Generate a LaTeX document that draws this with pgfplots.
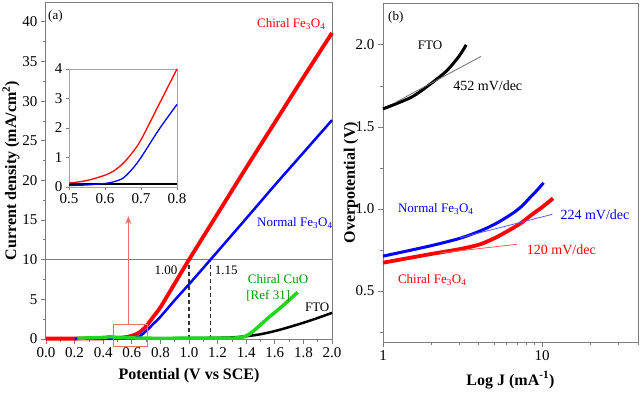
\documentclass[border=0pt]{standalone}
\usepackage{fontspec}
\setmainfont{Liberation Serif}
\usepackage{pgfplots}
\pgfplotsset{compat=1.18}
\usetikzlibrary{arrows.meta}
\definecolor{axgray}{RGB}{125,125,125}
\definecolor{cgreen}{RGB}{30,215,30}
\definecolor{lred}{RGB}{240,110,110}
\definecolor{tgray}{RGB}{110,110,110}
\definecolor{tblue}{RGB}{90,90,255}
\definecolor{tred}{RGB}{255,90,90}
\pgfplotsset{
  myax/.style={scale only axis, anchor=south west,
    axis line style={axgray, line width=1pt},
    tick style={axgray, line width=0.8pt},
    tick align=outside, tick pos=left,
    major tick length=5pt, minor tick length=3pt,
    tick label style={font=\fontsize{15}{17}\selectfont},
    label style={font=\fontsize{16}{18}\selectfont\bfseries},
    xlabel style={yshift=-4pt},
    /pgf/number format/assume math mode=true, clip=false}
}
\tikzset{ann/.style={font=\fontsize{13}{15}\selectfont, inner sep=0pt}}
\begin{document}
\begin{tikzpicture}
\path[use as bounding box] (0pt,0pt) rectangle (640pt,392pt);
% ---------------- panel (a)
\begin{axis}[myax, at={(46pt,53pt)}, width=286pt, height=337pt,
  xmin=0, xmax=2, ymin=0, ymax=42.5,
  xtick={0,0.2,0.4,0.6,0.8,1,1.2,1.4,1.6,1.8,2}, minor x tick num=1,
  ytick={0,5,10,15,20,25,30,35,40}, minor y tick num=1,
  xticklabel style={/pgf/number format/.cd, fixed, fixed zerofill, precision=1},
  xlabel={Potential (V vs SCE)},
  ylabel={Current density (mA/cm\textsuperscript{2})},
  ylabel style={at={(axis description cs:-0.122,0.5)}, anchor=center}]
\addplot[axgray, line width=1pt] coordinates {(0,10) (2,10)};
\addplot[black!80, line width=1.2pt, dash pattern=on 4pt off 3pt] coordinates {(1.0,0) (1.0,10)};
\addplot[black!80, line width=1.2pt, dash pattern=on 4pt off 3pt] coordinates {(1.15,0) (1.15,10)};
\addplot[black, line width=2.5pt, smooth] coordinates {(0,0.05) (0.5,0.08) (1.0,0.1) (1.2,0.15) (1.3,0.2) (1.4,0.35) (1.5,0.6) (1.6,1.0) (1.7,1.5) (1.8,2.05) (1.9,2.65) (2.0,3.3)};
\addplot[red, line width=3.8pt, smooth] coordinates {(0,0.05) (0.2,0.05) (0.4,0.08) (0.5,0.13) (0.55,0.22) (0.6,0.4) (0.65,0.8) (0.7,1.6) (0.75,2.8) (0.8,4.0) (0.9,7.0) (1.0,10.0) (1.2,15.8) (1.4,21.6) (1.6,27.3) (1.8,33.0) (2.0,38.6)};
\addplot[blue, line width=2.5pt, smooth] coordinates {(0.2,0.03) (0.5,0.05) (0.55,0.07) (0.6,0.12) (0.65,0.3) (0.7,1.0) (0.75,1.9) (0.8,2.8) (0.9,4.9) (1.0,6.9) (1.15,10.0) (1.4,15.2) (1.6,19.4) (1.8,23.5) (2.0,27.6)};
\addplot[cgreen, line width=3.5pt, smooth] coordinates {(0.22,0.1) (0.4,0.2) (0.45,0.3) (0.5,0.2) (0.7,0.1) (1.0,0.1) (1.3,0.12) (1.37,0.2) (1.42,0.6) (1.47,1.3) (1.55,2.6) (1.65,4.1) (1.76,5.9)};
\draw[lred, line width=1pt] (axis cs:0.47,-1.0) rectangle (axis cs:0.71,1.8);
\draw[lred, line width=1pt, -{Stealth[length=8pt,width=6pt]}] (axis cs:0.576,1.8) -- (axis cs:0.576,15.5);
\node[ann, anchor=west] at (axis cs:0.014,40.75) {(a)};
\node[ann, anchor=west, red] at (axis cs:1.475,39.7) {Chiral Fe\textsubscript{3}O\textsubscript{4}};
\node[ann, anchor=west, blue] at (axis cs:1.475,14.6) {Normal Fe\textsubscript{3}O\textsubscript{4}};
\node[ann, anchor=west, green!60!black] at (axis cs:1.41,7.5) {Chiral CuO};
\node[ann, anchor=west, green!60!black] at (axis cs:1.40,5.5) {[Ref 31]};
\node[ann, anchor=west] at (axis cs:1.81,4.0) {FTO};
\node[ann, anchor=east] at (axis cs:0.92,8.7) {1.00};
\node[ann, anchor=west] at (axis cs:1.18,8.7) {1.15};
\end{axis}
% ---------------- inset
\begin{axis}[myax, at={(69pt,205pt)}, width=108pt, height=118pt,
  axis line style={axgray!70, line width=0.8pt},
  xmin=0.5, xmax=0.8, ymin=0, ymax=4,
  xtick={0.5,0.6,0.7,0.8}, ytick={0,1,2,3,4},
  major tick length=3pt,
  xticklabel style={/pgf/number format/.cd, fixed, fixed zerofill, precision=1}]
\addplot[black, line width=1.2pt] coordinates {(0.5,0.1) (0.8,0.1)};
\addplot[blue, line width=1.3pt, smooth] coordinates {(0.5,0.05) (0.55,0.07) (0.6,0.12) (0.625,0.18) (0.65,0.3) (0.675,0.6) (0.7,1.0) (0.75,1.95) (0.8,2.8)};
\addplot[red, line width=1.3pt, smooth] coordinates {(0.5,0.13) (0.55,0.22) (0.6,0.4) (0.625,0.55) (0.65,0.8) (0.675,1.15) (0.7,1.6) (0.75,2.8) (0.8,4.0)};
\end{axis}
% ---------------- panel (b)
\begin{axis}[myax, at={(383pt,50pt)}, width=255pt, height=339pt,
  xmode=log, xmin=1, xmax=40, ymin=0.19, ymax=2.255,
  xtick={1,10}, xticklabels={1,10},
  minor xtick={2,3,4,5,6,7,8,9,20,30,40},
  ytick={0.5,1,1.5,2}, minor ytick={0.25,0.75,1.25,1.75},
  yticklabel style={/pgf/number format/.cd, fixed, fixed zerofill, precision=1},
  xlabel={Log J (mA\textsuperscript{-1})},
  ylabel={Overpotential (V)},
  ylabel style={at={(axis description cs:-0.125,0.47)}, anchor=center}]
\addplot[black, line width=3pt, smooth] coordinates {(1,1.61) (1.5,1.68) (1.95,1.756) (2.5,1.84) (3,1.93) (3.33,2.0)};
\addplot[blue, line width=3pt, smooth] coordinates {(1,0.713) (1.95,0.774) (3,0.82) (4.07,0.866) (5.2,0.915) (6.6,0.977) (7.5,1.02) (8.37,1.069) (9.3,1.115) (10.2,1.16)};
\addplot[red, line width=3.8pt, smooth] coordinates {(1,0.673) (1.95,0.724) (3,0.755) (4.07,0.785) (5.2,0.83) (6.6,0.886) (7.5,0.92) (8.37,0.957) (10.2,1.018) (11.7,1.065)};
\addplot[tgray, line width=0.8pt] coordinates {(1.2,1.65) (4.13,1.93)};
\addplot[tblue, line width=0.8pt] coordinates {(3.05,0.825) (11.6,0.968)};
\addplot[tred, line width=0.8pt] coordinates {(2.28,0.732) (6.93,0.785)};
\node[ann, anchor=west] at (axis cs:1.075,2.17) {(b)};
\node[ann, anchor=west] at (axis cs:1.65,2.0) {FTO};
\node[ann, anchor=west, font=\fontsize{14}{16}\selectfont] at (axis cs:2.76,1.75) {452 mV/dec};
\node[ann, anchor=west, blue] at (axis cs:1.24,1.0) {Normal Fe\textsubscript{3}O\textsubscript{4}};
\node[ann, anchor=west, blue, font=\fontsize{14}{16}\selectfont] at (axis cs:13.0,0.963) {224 mV/dec};
\node[ann, anchor=west, red, font=\fontsize{14}{16}\selectfont] at (axis cs:8.0,0.75) {120 mV/dec};
\node[ann, anchor=west, red] at (axis cs:1.24,0.567) {Chiral Fe\textsubscript{3}O\textsubscript{4}};
\end{axis}
\end{tikzpicture}
\end{document}
